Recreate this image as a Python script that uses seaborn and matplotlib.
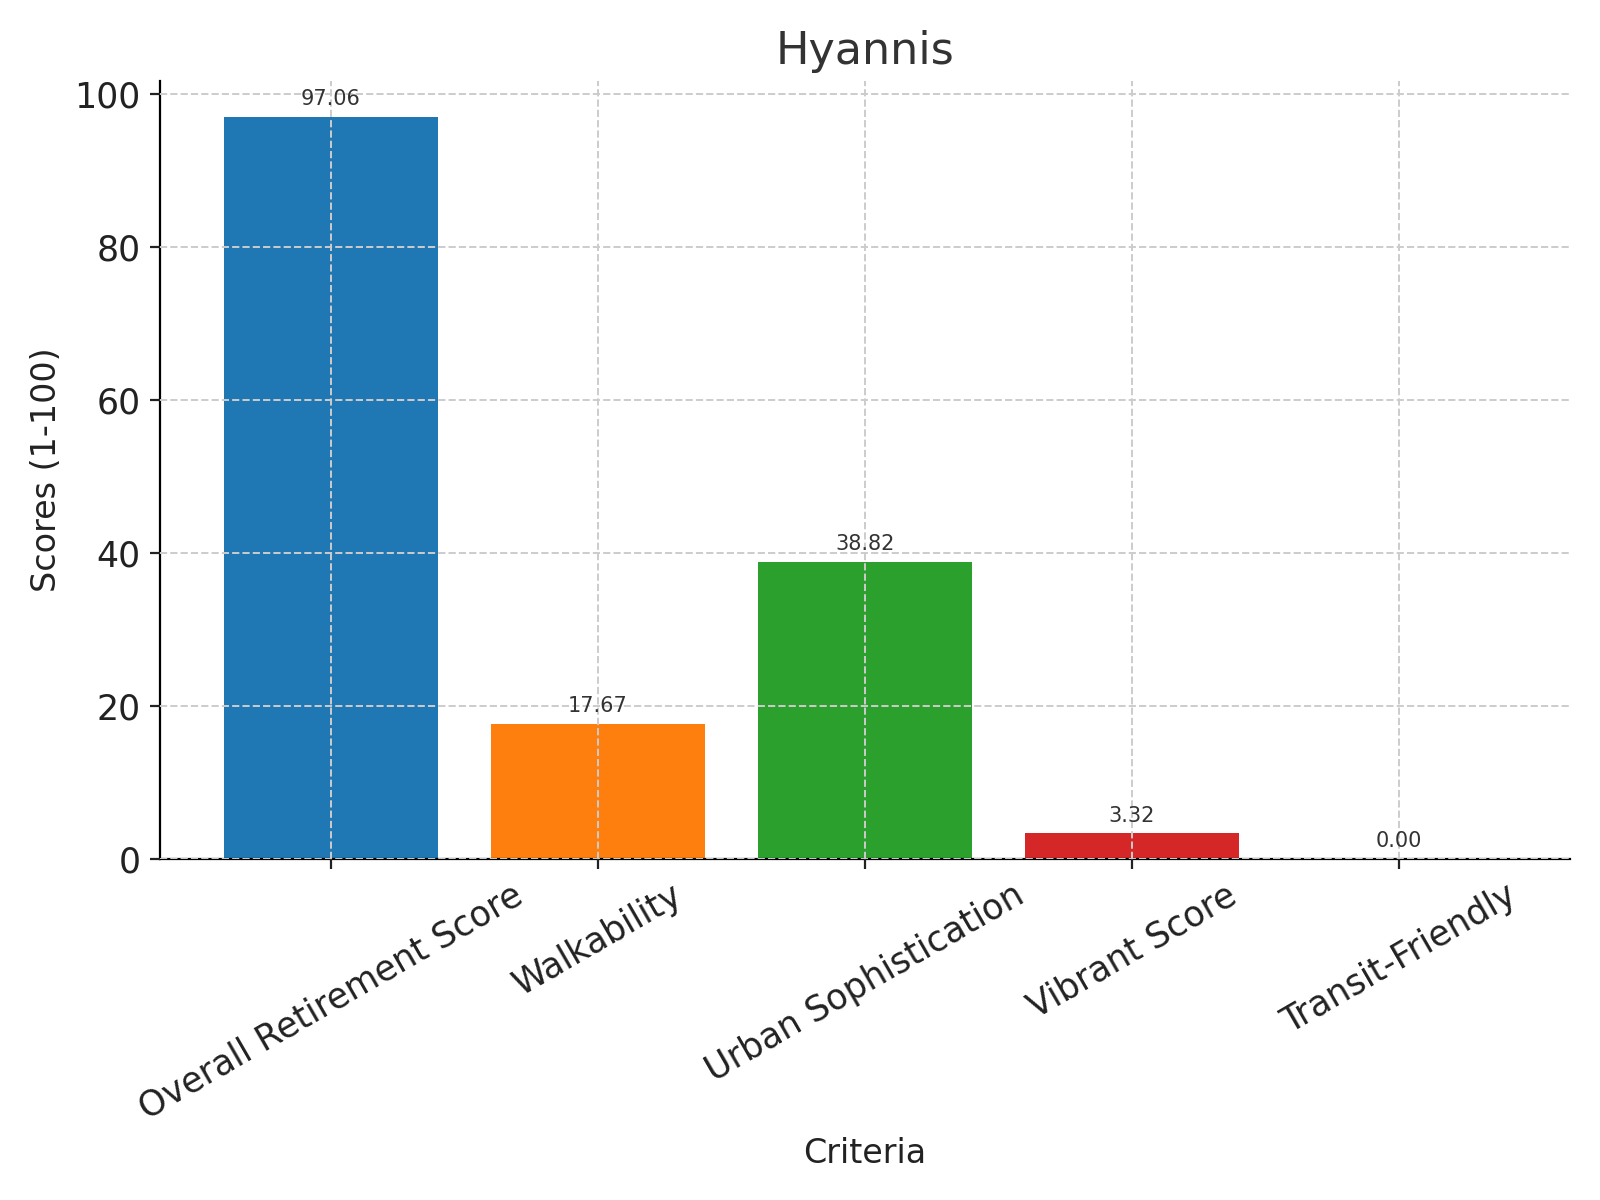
import matplotlib
matplotlib.use("Agg")
import matplotlib.pyplot as plt
import seaborn as sns
import pandas as pd

criteria = ["Overall Retirement Score", "Walkability", "Urban Sophistication",
            "Vibrant Score", "Transit-Friendly"]
scores = [97.06, 17.67, 38.82, 3.32, 0.00]
colors = ["#1f77b4", "#ff7f0e", "#2ca02c", "#d62728", "#9467bd"]

df = pd.DataFrame({"Criteria": criteria, "Score": scores})

fig, ax = plt.subplots(figsize=(8, 6), dpi=200)
sns.barplot(data=df, x="Criteria", y="Score", hue="Criteria", palette=colors,
            legend=False, width=0.8, saturation=1, ax=ax)

for p, v in zip(ax.patches, scores):
    ax.annotate(f"{v:.2f}", (p.get_x() + p.get_width() / 2, p.get_height() + 1),
                ha="center", va="bottom", fontsize=7.5, color="#333333")

ax.set_title("Hyannis", fontsize=16, color="#333333")
ax.set_xlabel("Criteria", fontsize=12, color="#222222")
ax.set_ylabel("Scores (1-100)", fontsize=12, color="#222222")
ax.set_xlim(-0.64, 4.64)
ax.set_ylim(0, 101.8)
ax.grid(True, linestyle="--", color="#cccccc", linewidth=0.7)
ax.set_axisbelow(False)
ax.spines["top"].set_visible(False)
ax.spines["right"].set_visible(False)
ax.tick_params(labelsize=12.5, colors="#222222")
plt.setp(ax.get_xticklabels(), rotation=30, ha="center")

plt.tight_layout()
plt.savefig("out.png")
